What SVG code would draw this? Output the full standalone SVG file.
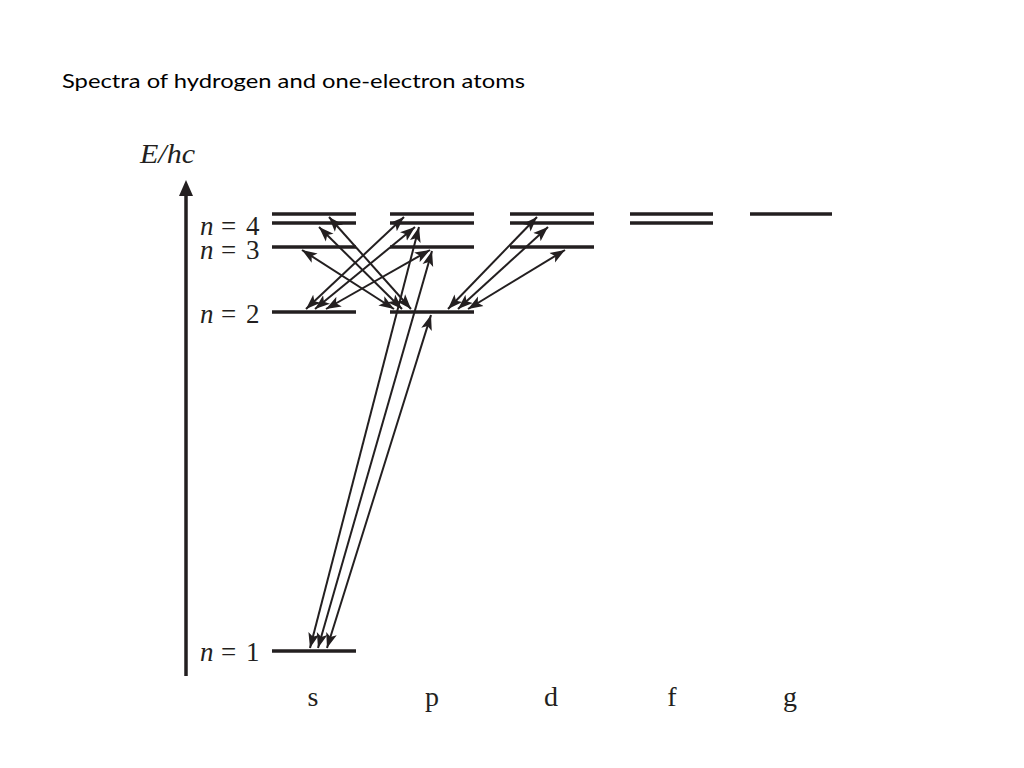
<svg xmlns="http://www.w3.org/2000/svg" width="1024" height="768" viewBox="0 0 1024 768">
<style>
.title{font-family:"Lato","Liberation Sans",sans-serif;font-size:20px;fill:#000}
.math{font-family:"Liberation Serif","DejaVu Serif",serif;font-size:27px;fill:#231f20}
.lab{font-family:"Liberation Serif","DejaVu Serif",serif;font-size:28px;fill:#231f20}
.it{font-style:italic}
.lvl{stroke:#231f20;stroke-width:3.5;fill:none}
.tr{stroke:#231f20;stroke-width:2;fill:none;marker-start:url(#ah);marker-end:url(#ah)}
.axis{stroke:#231f20;stroke-width:3.5;fill:none}
</style>
<defs>
<marker id="ah" markerUnits="userSpaceOnUse" markerWidth="16" markerHeight="12" refX="15" refY="5.5" orient="auto-start-reverse" viewBox="0 0 16 11">
<path d="M0,0 L15,5.5 L0,11 L3.5,5.5 z" fill="#231f20"/>
</marker>
</defs>
<rect width="1024" height="768" fill="#fff"/>
<text class="title" x="62" y="88" textLength="463" lengthAdjust="spacingAndGlyphs">Spectra of hydrogen and one-electron atoms</text>

<g id="axis">
<line class="axis" x1="186" y1="676" x2="186" y2="194"/>
<path d="M179,196 L186,180 L193,196 z" fill="#231f20"/>
<text class="lab it" x="140" y="163" textLength="55" lengthAdjust="spacingAndGlyphs">E/hc</text>
</g>

<g id="labels-n">
<text class="math it" x="200" y="235">n</text><text class="math" x="221" y="235">=</text><text class="math" x="246" y="235">4</text>
<text class="math it" x="200" y="259">n</text><text class="math" x="221" y="259">=</text><text class="math" x="246" y="259">3</text>
<text class="math it" x="200" y="323">n</text><text class="math" x="221" y="323">=</text><text class="math" x="246" y="323">2</text>
<text class="math it" x="200" y="661">n</text><text class="math" x="221" y="661">=</text><text class="math" x="246" y="661">1</text>
</g>

<g id="s">
<line class="lvl" x1="272" y1="214" x2="356" y2="214"/>
<line class="lvl" x1="272" y1="223" x2="356" y2="223"/>
<line class="lvl" x1="272" y1="247" x2="356" y2="247"/>
<line class="lvl" x1="272" y1="312" x2="356" y2="312"/>
<line class="lvl" x1="272" y1="651" x2="356" y2="651"/>
<text class="lab" x="313" y="706" text-anchor="middle">s</text>
</g>
<g id="p">
<line class="lvl" x1="390" y1="214" x2="474" y2="214"/>
<line class="lvl" x1="390" y1="223" x2="474" y2="223"/>
<line class="lvl" x1="390" y1="247" x2="474" y2="247"/>
<line class="lvl" x1="390" y1="312" x2="474" y2="312"/>
<text class="lab" x="432" y="706" text-anchor="middle">p</text>
</g>
<g id="d">
<line class="lvl" x1="510" y1="214" x2="594" y2="214"/>
<line class="lvl" x1="510" y1="223" x2="594" y2="223"/>
<line class="lvl" x1="510" y1="247" x2="594" y2="247"/>
<text class="lab" x="551" y="706" text-anchor="middle">d</text>
</g>
<g id="f">
<line class="lvl" x1="630" y1="214" x2="713" y2="214"/>
<line class="lvl" x1="630" y1="223" x2="713" y2="223"/>
<text class="lab" x="672" y="706" text-anchor="middle">f</text>
</g>
<g id="g">
<line class="lvl" x1="750" y1="214" x2="832" y2="214"/>
<text class="lab" x="790" y="706" text-anchor="middle">g</text>
</g>

<g id="connectors">
<line class="tr" x1="310" y1="648" x2="419" y2="227"/>
<line class="tr" x1="318" y1="648" x2="432" y2="251"/>
<line class="tr" x1="327" y1="648" x2="431" y2="315"/>
<line class="tr" x1="306" y1="309" x2="404" y2="217"/>
<line class="tr" x1="315" y1="309" x2="415" y2="227"/>
<line class="tr" x1="326" y1="309" x2="430" y2="250"/>
<line class="tr" x1="411" y1="309" x2="329" y2="217"/>
<line class="tr" x1="402" y1="309" x2="319" y2="227"/>
<line class="tr" x1="394" y1="309" x2="302" y2="250"/>
<line class="tr" x1="448" y1="309" x2="537" y2="217"/>
<line class="tr" x1="458" y1="309" x2="548" y2="227"/>
<line class="tr" x1="468" y1="309" x2="565" y2="250"/>
</g>
</svg>
